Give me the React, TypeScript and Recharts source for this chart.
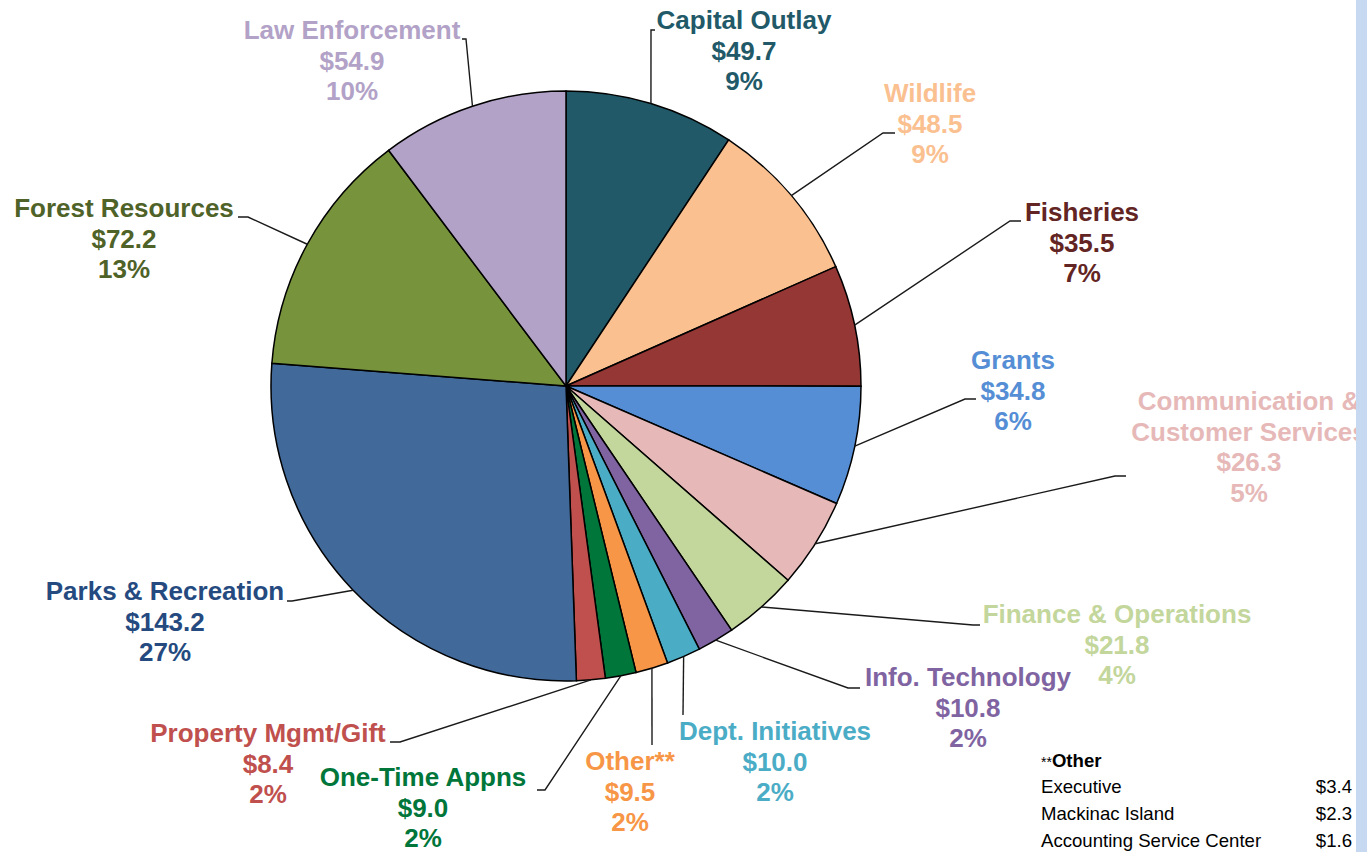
import { PieChart, Pie, Cell } from 'recharts'

const categories = [
  'Capital Outlay',
  'Wildlife',
  'Fisheries',
  'Grants',
  'Communication & Customer Services',
  'Finance & Operations',
  'Info. Technology',
  'Dept. Initiatives',
  'Other**',
  'One-Time Appns',
  'Property Mgmt/Gift',
  'Parks & Recreation',
  'Forest Resources',
  'Law Enforcement',
]
const amounts = [49.7, 48.5, 35.5, 34.8, 26.3, 21.8, 10.8, 10.0, 9.5, 9.0, 8.4, 143.2, 72.2, 54.9]
const shares = ['9%', '9%', '7%', '6%', '5%', '4%', '2%', '2%', '2%', '2%', '2%', '27%', '13%', '10%']

const otherItems = ['Executive', 'Mackinac Island', 'Accounting Service Center']
const otherAmounts = [3.4, 2.3, 1.6]

const sliceColors = [
  '#215968', '#fac090', '#953735', '#558ed5', '#e6b9b8', '#c3d69b', '#8064a2',
  '#4bacc6', '#f79646', '#00763a', '#c0504d', '#416a9b', '#77933c', '#b3a2c7',
]
const labelColors = [
  '#215968', '#fac090', '#632523', '#558ed5', '#e6b9b8', '#c3d69b', '#8064a2',
  '#4bacc6', '#f79646', '#00763a', '#c0504d', '#254a80', '#4f6228', '#b3a2c7',
]

// label placement: text centre x / first baseline, leader elbow and end
const labelLayout = [
  { x: 744, y: 29, elbow: [651, 30], end: [655, 30] },
  { x: 930, y: 102, elbow: [883, 133], end: [895, 133] },
  { x: 1082, y: 221, elbow: [1010, 221], end: [1021, 221] },
  { x: 1013, y: 369, elbow: [965, 399], end: [976, 399] },
  { x: 1249, y: 410, elbow: [1115, 476], end: [1126, 476], wrap: true },
  { x: 1117, y: 623, elbow: [973, 625], end: [980, 625] },
  { x: 968, y: 686, elbow: [848, 688], end: [860, 688] },
  { x: 775, y: 740, elbow: [683, 715], end: [683, 715] },
  { x: 630, y: 770, elbow: [652, 745], end: [652, 745] },
  { x: 423, y: 786, elbow: [545, 790], end: [537, 790] },
  { x: 268, y: 742, elbow: [400, 742], end: [390, 742] },
  { x: 165, y: 600, elbow: [292, 601], end: [287, 601] },
  { x: 124, y: 217, elbow: [248, 217], end: [238, 217] },
  { x: 352, y: 39, elbow: [466, 39], end: [462, 39] },
]

const data = categories.map((name, i) => ({ name, value: amounts[i] }))

const FONT = '"Liberation Sans", Arial, sans-serif'
const RADIAN = Math.PI / 180
const LINE_H = 30.5

function renderLabel(props: any) {
  const { cx, cy, midAngle, outerRadius, index } = props
  const i = typeof index === 'number' ? index : categories.indexOf(props.name)
  const lay = labelLayout[i]
  const sx = cx + outerRadius * Math.cos(-midAngle * RADIAN)
  const sy = cy + outerRadius * Math.sin(-midAngle * RADIAN)
  const name = categories[i]
  const titleLines = lay.wrap ? name.replace(' & ', ' &\n').split('\n') : [name]
  const lines = [...titleLines, `$${amounts[i].toFixed(1)}`, shares[i]]
  return (
    <g key={`lbl-${i}`}>
      <polyline
        points={`${sx},${sy} ${lay.elbow[0]},${lay.elbow[1]} ${lay.end[0]},${lay.end[1]}`}
        fill="none"
        stroke="#1a1a1a"
        strokeWidth={1.4}
      />
      <text
        x={lay.x}
        y={lay.y}
        textAnchor="middle"
        fill={labelColors[i]}
        fontFamily={FONT}
        fontWeight={700}
        fontSize={26}
      >
        {lines.map((t, k) => (
          <tspan key={k} x={lay.x} y={lay.y + k * LINE_H}>
            {t}
          </tspan>
        ))}
      </text>
    </g>
  )
}

export default function App() {
  return (
    <div style={{ position: 'absolute', left: 0, top: 0, width: 1367, height: 852, background: '#fff' }}>
      <PieChart width={1367} height={852} margin={{ top: 0, right: 0, bottom: 0, left: 0 }}>
        <Pie
          data={data}
          dataKey="value"
          nameKey="name"
          cx={566}
          cy={386}
          outerRadius={295}
          startAngle={90}
          endAngle={-270}
          stroke="#000"
          strokeWidth={1.5}
          labelLine={false}
          label={renderLabel}
          isAnimationActive={false}
        >
          {data.map((d, i) => (
            <Cell key={d.name} fill={sliceColors[i]} />
          ))}
        </Pie>
      </PieChart>
      <svg
        width={1367}
        height={852}
        style={{ position: 'absolute', left: 0, top: 0, pointerEvents: 'none' }}
      >
        <text x={1041} y={767} fontFamily={FONT} fontSize={18.6} fill="#000">
          <tspan fontSize={14}>**</tspan>
          <tspan fontWeight={700}>Other</tspan>
        </text>
        {otherItems.map((item, k) => (
          <g key={item}>
            <text x={1041} y={793 + k * 27} fontFamily={FONT} fontSize={18.6} fill="#000">
              {item}
            </text>
            <text x={1352} y={793 + k * 27} fontFamily={FONT} fontSize={18.6} fill="#000" textAnchor="end">
              {`$${otherAmounts[k].toFixed(1)}`}
            </text>
          </g>
        ))}
        <rect x={1356} y={0} width={11} height={852} fill="#c6d9f1" />
      </svg>
    </div>
  )
}
